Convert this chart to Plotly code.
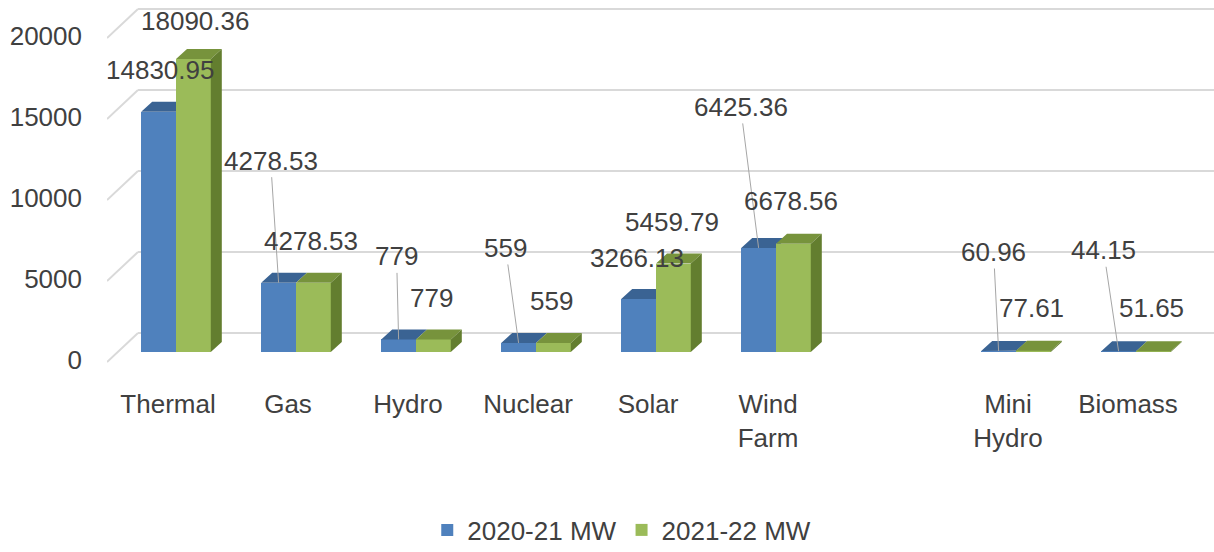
import plotly.graph_objects as go

# ---------------- data ----------------
categories = ["Thermal", "Gas", "Hydro", "Nuclear", "Solar", "Wind Farm", "", "Mini Hydro", "Biomass"]
tick_labels = ["Thermal", "Gas", "Hydro", "Nuclear", "Solar", "Wind<br>Farm", "", "Mini<br>Hydro", "Biomass"]
mw_2020_21 = [14830.95, 4278.53, 779, 559, 3266.13, 6425.36, None, 60.96, 44.15]
mw_2021_22 = [18090.36, 4278.53, 779, 559, 5459.79, 6678.56, None, 77.61, 51.65]
series_names = ["2020-21 MW", "2021-22 MW"]
y_ticks = [0, 5000, 10000, 15000, 20000]

# ---------------- label placement (pixel offsets from bar top, leader line?) ----------------
label_pos_2020_21 = [(1, -42, False), (-8, -122, True), (-2, -83, True), (-13, -95, True),
                     (-2, -41, False), (-18, -141, True), None, (-5, -99, True), (-15, -101, True)]
label_pos_2021_22 = [(2, -38, False), (-2, -42, False), (-2, -41, False), (-2, -42, False),
                     (-1, -42, False), (-2, -43, False), None, (-2, -43, False), (-2, -43, False)]

# ---------------- geometry / style ----------------
W_PX, H_PX = 1214, 552
M_L, M_R, M_T, M_B = 107, 0, 0, 180
PLOT_W = W_PX - M_L - M_R
PLOT_H = H_PX - M_T - M_B
PX_PER_CAT = 120.0
X0 = -0.575
X1 = X0 + PLOT_W / PX_PER_CAT
UPP = 61.73                      # y units per pixel
Y0 = -20 * UPP
Y1 = Y0 + PLOT_H * UPP
BAR_W = 0.29
DX = 11 / PX_PER_CAT
DY = 10 * UPP

FONT = "Liberation Sans, Arial, sans-serif"
FS = 26
TXT = "#404040"
BLUE, BLUE_TOP = "#4f81bd", "#3a6393"
GREEN, GREEN_TOP, GREEN_SIDE = "#9bbb59", "#77933c", "#637e2f"
GRID = "#d9d9d9"

idx = list(range(len(categories)))

fig = go.Figure()

# front faces
fig.add_trace(go.Bar(x=idx, y=mw_2020_21, name=series_names[0], offset=-BAR_W, width=BAR_W,
                     marker=dict(color=BLUE, line=dict(width=0))))
fig.add_trace(go.Bar(x=idx, y=mw_2021_22, name=series_names[1], offset=0, width=BAR_W,
                     marker=dict(color=GREEN, line=dict(width=0))))

# 3-D top / side faces computed from the data
bt_x, bt_y, gt_x, gt_y, gs_x, gs_y = [], [], [], [], [], []
for i, v, g in zip(idx, mw_2020_21, mw_2021_22):
    if v is None:
        continue
    x0, x1, x2 = i - BAR_W, i, i + BAR_W
    gc = min(max(g, v), v + DY)
    bt_x += [x0, x1, x1, x1 + DX * (gc - v) / DY, x1 + DX, x0 + DX, x0, None]
    bt_y += [v, v, gc, gc, v + DY, v + DY, v, None]
    gt_x += [x1, x2, x2 + DX, x1 + DX, x1, None]
    gt_y += [g, g, g + DY, g + DY, g, None]
    gs_x += [x2, x2, x2 + DX, x2 + DX, x2, None]
    gs_y += [0, g, g + DY, DY, 0, None]

for xs, ys, col in [(bt_x, bt_y, BLUE_TOP), (gt_x, gt_y, GREEN_TOP), (gs_x, gs_y, GREEN_SIDE)]:
    fig.add_trace(go.Scatter(x=xs, y=ys, mode="lines", fill="toself", fillcolor=col,
                             line=dict(width=0, color=col), showlegend=False, hoverinfo="skip"))

# back-wall gridlines with perspective floor diagonals
x_back = X0 + (138 - 107) / PX_PER_CAT
shapes = []
for v in y_ticks:
    shapes.append(dict(type="line", xref="x", yref="y", x0=X0, y0=v - 10 * UPP, x1=x_back, y1=v + 19 * UPP,
                       line=dict(color=GRID, width=2), layer="below"))
    shapes.append(dict(type="line", xref="x", yref="y", x0=x_back, y0=v + 19 * UPP, x1=X1, y1=v + 19 * UPP,
                       line=dict(color=GRID, width=2), layer="below"))

# data labels
annotations = []
for vals, poss, cx in [(mw_2020_21, label_pos_2020_21, -BAR_W / 2), (mw_2021_22, label_pos_2021_22, BAR_W / 2)]:
    for i, v, p in zip(idx, vals, poss):
        if v is None:
            continue
        ox, oy, leader = p
        annotations.append(dict(x=i + cx, y=v, xref="x", yref="y", text=str(v), showarrow=True,
                                ax=ox, ay=oy, arrowhead=0, arrowwidth=1,
                                arrowcolor="#a6a6a6" if leader else "rgba(0,0,0,0)",
                                font=dict(family=FONT, size=FS, color=TXT)))

fig.update_layout(
    width=W_PX, height=H_PX,
    margin=dict(l=M_L, r=M_R, t=M_T, b=M_B, autoexpand=False),
    paper_bgcolor="white", plot_bgcolor="white",
    font=dict(family=FONT, size=FS, color=TXT),
    bargap=0, barmode="overlay",
    showlegend=True,
    legend=dict(orientation="h", x=0.465, xanchor="center", y=-(530 - PLOT_H) / PLOT_H, yanchor="middle",
                font=dict(family=FONT, size=FS, color=TXT), itemwidth=30),
    shapes=shapes, annotations=annotations,
    xaxis=dict(range=[X0, X1], tickvals=[i - 8 / PX_PER_CAT for i in idx], ticktext=tick_labels,
               showgrid=False, zeroline=False, showline=False, ticks="", ticklabelstandoff=14,
               tickfont=dict(family=FONT, size=FS, color=TXT), fixedrange=True),
    yaxis=dict(range=[Y0, Y1], tickvals=y_ticks, ticktext=[str(t) for t in y_ticks],
               showgrid=False, zeroline=False, showline=False, ticks="", ticklabelshift=8,
               ticklabelstandoff=24, tickfont=dict(family=FONT, size=FS, color=TXT), fixedrange=True),
)

fig.write_html("out.html", post_script="document.body.style.margin='0';",
               config={"displayModeBar": False})
